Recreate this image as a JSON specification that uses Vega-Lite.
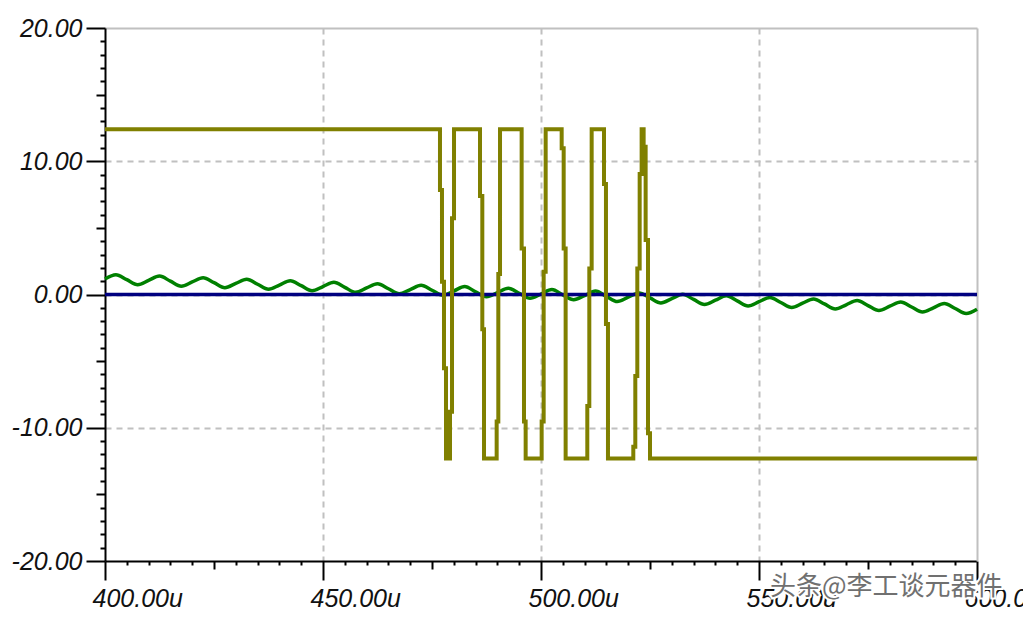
{
  "$schema": "https://vega.github.io/schema/vega-lite/v6.json",
  "width": 872,
  "height": 533,
  "autosize": "none",
  "padding": {"left": 105, "top": 28, "right": 46, "bottom": 58},
  "background": "white",
  "config": {"view": {"stroke": null}},
  "datasets": {
    "green": [
      {"t": 400, "v": 1.17}, {"t": 402.5, "v": 1.49}, {"t": 405, "v": 1.11}, {"t": 407.5, "v": 0.73},
      {"t": 410, "v": 1.06}, {"t": 412.5, "v": 1.38}, {"t": 415, "v": 1.00}, {"t": 417.5, "v": 0.62},
      {"t": 420, "v": 0.94}, {"t": 422.5, "v": 1.26}, {"t": 425, "v": 0.89}, {"t": 427.5, "v": 0.51},
      {"t": 430, "v": 0.83}, {"t": 432.5, "v": 1.15}, {"t": 435, "v": 0.77}, {"t": 437.5, "v": 0.39},
      {"t": 440, "v": 0.71}, {"t": 442.5, "v": 1.04}, {"t": 445, "v": 0.66}, {"t": 447.5, "v": 0.28},
      {"t": 450, "v": 0.60}, {"t": 452.5, "v": 0.92}, {"t": 455, "v": 0.54}, {"t": 457.5, "v": 0.16},
      {"t": 460, "v": 0.49}, {"t": 462.5, "v": 0.81}, {"t": 465, "v": 0.43}, {"t": 467.5, "v": 0.05},
      {"t": 470, "v": 0.37}, {"t": 472.5, "v": 0.69}, {"t": 475, "v": 0.32}, {"t": 477.5, "v": -0.06},
      {"t": 480, "v": 0.26}, {"t": 482.5, "v": 0.60}, {"t": 485, "v": 0.20}, {"t": 487.5, "v": -0.17},
      {"t": 490, "v": 0.14}, {"t": 492.5, "v": 0.47}, {"t": 495, "v": 0.09}, {"t": 497.5, "v": -0.29},
      {"t": 500, "v": 0.03}, {"t": 502.5, "v": 0.37}, {"t": 505, "v": -0.03}, {"t": 507.5, "v": -0.39},
      {"t": 510, "v": -0.08}, {"t": 512.5, "v": 0.26}, {"t": 515, "v": -0.14}, {"t": 517.5, "v": -0.53},
      {"t": 520, "v": -0.20}, {"t": 522.5, "v": 0.12}, {"t": 525, "v": -0.26}, {"t": 527.5, "v": -0.63},
      {"t": 530, "v": -0.31}, {"t": 532.5, "v": 0.01}, {"t": 535, "v": -0.37}, {"t": 537.5, "v": -0.75},
      {"t": 540, "v": -0.43}, {"t": 542.5, "v": -0.10}, {"t": 545, "v": -0.48}, {"t": 547.5, "v": -0.86},
      {"t": 550, "v": -0.54}, {"t": 552.5, "v": -0.22}, {"t": 555, "v": -0.60}, {"t": 557.5, "v": -0.98},
      {"t": 560, "v": -0.65}, {"t": 562.5, "v": -0.33}, {"t": 565, "v": -0.71}, {"t": 567.5, "v": -1.09},
      {"t": 570, "v": -0.77}, {"t": 572.5, "v": -0.45}, {"t": 575, "v": -0.83}, {"t": 577.5, "v": -1.20},
      {"t": 580, "v": -0.88}, {"t": 582.5, "v": -0.56}, {"t": 585, "v": -0.94}, {"t": 587.5, "v": -1.32},
      {"t": 590, "v": -1.00}, {"t": 592.5, "v": -0.67}, {"t": 595, "v": -1.05}, {"t": 597.5, "v": -1.43},
      {"t": 600, "v": -1.11}
    ],
    "blue": [{"t": 400, "v": 0}, {"t": 600, "v": 0}],
    "olive": [
      {"t": 400, "v": 12.4},
      {"t": 476.83, "v": 7.84}, {"t": 477.29, "v": 0.96}, {"t": 477.75, "v": -5.54}, {"t": 478.21, "v": -12.3},
      {"t": 479.13, "v": -8.79}, {"t": 479.59, "v": 5.72}, {"t": 480.05, "v": 12.4},
      {"t": 486.01, "v": 7.39}, {"t": 486.54, "v": -2.61}, {"t": 486.93, "v": -12.3},
      {"t": 489.83, "v": -9.54}, {"t": 490.21, "v": 1.54}, {"t": 490.60, "v": 12.4},
      {"t": 495.56, "v": 3.46}, {"t": 496.10, "v": -9.54}, {"t": 496.48, "v": -12.3},
      {"t": 500.15, "v": -9.54}, {"t": 500.61, "v": 1.71}, {"t": 501.07, "v": 12.4},
      {"t": 504.74, "v": 10.97}, {"t": 505.20, "v": 3.46}, {"t": 505.65, "v": -12.3},
      {"t": 510.62, "v": -8.37}, {"t": 511.08, "v": 1.96}, {"t": 511.62, "v": 12.4},
      {"t": 514.45, "v": 8.29}, {"t": 514.90, "v": -2.21}, {"t": 515.36, "v": -12.3},
      {"t": 521.17, "v": -11.42}, {"t": 521.63, "v": -6.12}, {"t": 522.09, "v": 1.96}, {"t": 522.63, "v": 9.04}, {"t": 523.08, "v": 12.4},
      {"t": 523.54, "v": 11.09}, {"t": 524.00, "v": 4.09}, {"t": 524.54, "v": -10.42}, {"t": 525.0, "v": -12.3},
      {"t": 600, "v": -12.3}
    ],
    "mark": [{"t": 579.2, "v": -21.95, "label": "头条@李工谈元器件"}]
  },
  "resolve": {"axis": {"x": "independent", "y": "independent"}},
  "layer": [
    {
      "data": {"name": "green"},
      "mark": {"type": "line", "color": "#008000", "strokeWidth": 3.5, "interpolate": "monotone"},
      "encoding": {
        "x": {"field": "t", "type": "quantitative", "scale": {"domain": [400, 600], "nice": false, "zero": false},
          "axis": {"orient": "bottom", "values": [450, 500, 550], "grid": true, "gridColor": "#c0c0c0", "gridWidth": 2, "gridDash": [6, 5], "domain": false, "ticks": false, "labels": false, "title": null}},
        "y": {"field": "v", "type": "quantitative", "scale": {"domain": [-20, 20], "nice": false, "zero": false},
          "axis": {"orient": "left", "values": [-10, 0, 10], "grid": true, "gridColor": "#c0c0c0", "gridWidth": 2, "gridDash": [6, 5], "domain": false, "ticks": false, "labels": false, "title": null}}
      }
    },
    {
      "data": {"name": "blue"},
      "mark": {"type": "line", "color": "#000080", "strokeWidth": 3.5},
      "encoding": {
        "x": {"field": "t", "type": "quantitative", "scale": {"domain": [400, 600], "nice": false, "zero": false},
          "axis": {"orient": "bottom", "values": [400, 450, 500, 550, 600], "grid": false, "domain": true, "domainColor": "#000", "domainWidth": 2,
            "ticks": true, "tickSize": 19, "tickWidth": 2, "tickColor": "#000",
            "labelExpr": "format(datum.value, '.2f') + 'u'", "labelFont": "Liberation Sans", "labelFontStyle": "italic", "labelFontSize": 25,
            "labelColor": "#111", "labelAlign": "left", "labelBaseline": "top", "labelOffset": -13, "labelPadding": 6,
            "labelOverlap": false, "labelFlush": false, "labelBound": false, "title": null}},
        "y": {"field": "v", "type": "quantitative", "scale": {"domain": [-20, 20], "nice": false, "zero": false},
          "axis": {"orient": "left", "values": [-20, -10, 0, 10, 20], "grid": false, "domain": true, "domainColor": "#000", "domainWidth": 2,
            "ticks": true, "tickSize": 19, "tickWidth": 2, "tickColor": "#000",
            "labelExpr": "(datum.value < 0 ? '-' : '') + format(abs(datum.value), '.2f')", "labelFont": "Liberation Sans", "labelFontStyle": "italic", "labelFontSize": 25,
            "labelColor": "#111", "labelAlign": "right", "labelBaseline": "middle", "labelPadding": 4,
            "labelOverlap": false, "labelFlush": false, "labelBound": false, "title": null}}
      }
    },
    {
      "data": {"name": "olive"},
      "mark": {"type": "line", "color": "#808000", "strokeWidth": 4, "interpolate": "step-after"},
      "encoding": {
        "x": {"field": "t", "type": "quantitative", "scale": {"domain": [400, 600], "nice": false, "zero": false},
          "axis": {"orient": "bottom", "values": [405, 410, 415, 420, 430, 435, 440, 445, 455, 460, 465, 470, 480, 485, 490, 495, 505, 510, 515, 520, 530, 535, 540, 545, 555, 560, 565, 570, 580, 585, 590, 595],
            "grid": false, "domain": false, "labels": false, "ticks": true, "tickSize": 4, "tickWidth": 2, "tickColor": "#000", "title": null}},
        "y": {"field": "v", "type": "quantitative", "scale": {"domain": [-20, 20], "nice": false, "zero": false},
          "axis": {"orient": "left", "values": [-19, -18, -17, -16, -14, -13, -12, -11, -9, -8, -7, -6, -4, -3, -2, -1, 1, 2, 3, 4, 6, 7, 8, 9, 11, 12, 13, 14, 16, 17, 18, 19],
            "grid": false, "domain": false, "labels": false, "ticks": true, "tickSize": 5, "tickWidth": 2, "tickColor": "#000", "title": null}}
      }
    },
    {
      "data": {"name": "blue"},
      "mark": {"type": "line", "opacity": 0},
      "encoding": {
        "x": {"field": "t", "type": "quantitative", "scale": {"domain": [400, 600], "nice": false, "zero": false},
          "axis": {"orient": "bottom", "values": [425, 475, 525, 575], "grid": false, "domain": false, "labels": false, "ticks": true, "tickSize": 8, "tickWidth": 2, "tickColor": "#000", "title": null}},
        "y": {"field": "v", "type": "quantitative", "scale": {"domain": [-20, 20], "nice": false, "zero": false},
          "axis": {"orient": "left", "values": [-15, -5, 5, 15], "grid": false, "domain": false, "labels": false, "ticks": true, "tickSize": 9, "tickWidth": 2, "tickColor": "#000", "title": null}}
      }
    },
    {
      "data": {"name": "blue"},
      "mark": {"type": "line", "opacity": 0},
      "encoding": {
        "x": {"field": "t", "type": "quantitative", "scale": {"domain": [400, 600], "nice": false, "zero": false},
          "axis": {"orient": "top", "grid": false, "domain": true, "domainColor": "#c0c0c0", "domainWidth": 2, "labels": false, "ticks": false, "title": null}},
        "y": {"field": "v", "type": "quantitative", "scale": {"domain": [-20, 20], "nice": false, "zero": false},
          "axis": {"orient": "right", "grid": false, "domain": true, "domainColor": "#c0c0c0", "domainWidth": 2, "labels": false, "ticks": false, "title": null}}
      }
    },
    {
      "data": {"name": "mark"},
      "mark": {"type": "text", "font": "Noto Sans CJK SC", "fontSize": 26, "align": "center", "baseline": "middle", "fill": "#ffffff", "stroke": "#ffffff", "strokeWidth": 4},
      "encoding": {
        "x": {"field": "t", "type": "quantitative", "axis": null, "scale": {"domain": [400, 600], "nice": false, "zero": false}},
        "y": {"field": "v", "type": "quantitative", "axis": null, "scale": {"domain": [-20, 20], "nice": false, "zero": false}},
        "text": {"field": "label"}
      }
    },
    {
      "data": {"name": "mark"},
      "mark": {"type": "text", "font": "Noto Sans CJK SC", "fontSize": 26, "align": "center", "baseline": "middle", "fill": "#707070"},
      "encoding": {
        "x": {"field": "t", "type": "quantitative", "axis": null, "scale": {"domain": [400, 600], "nice": false, "zero": false}},
        "y": {"field": "v", "type": "quantitative", "axis": null, "scale": {"domain": [-20, 20], "nice": false, "zero": false}},
        "text": {"field": "label"}
      }
    }
  ]
}
